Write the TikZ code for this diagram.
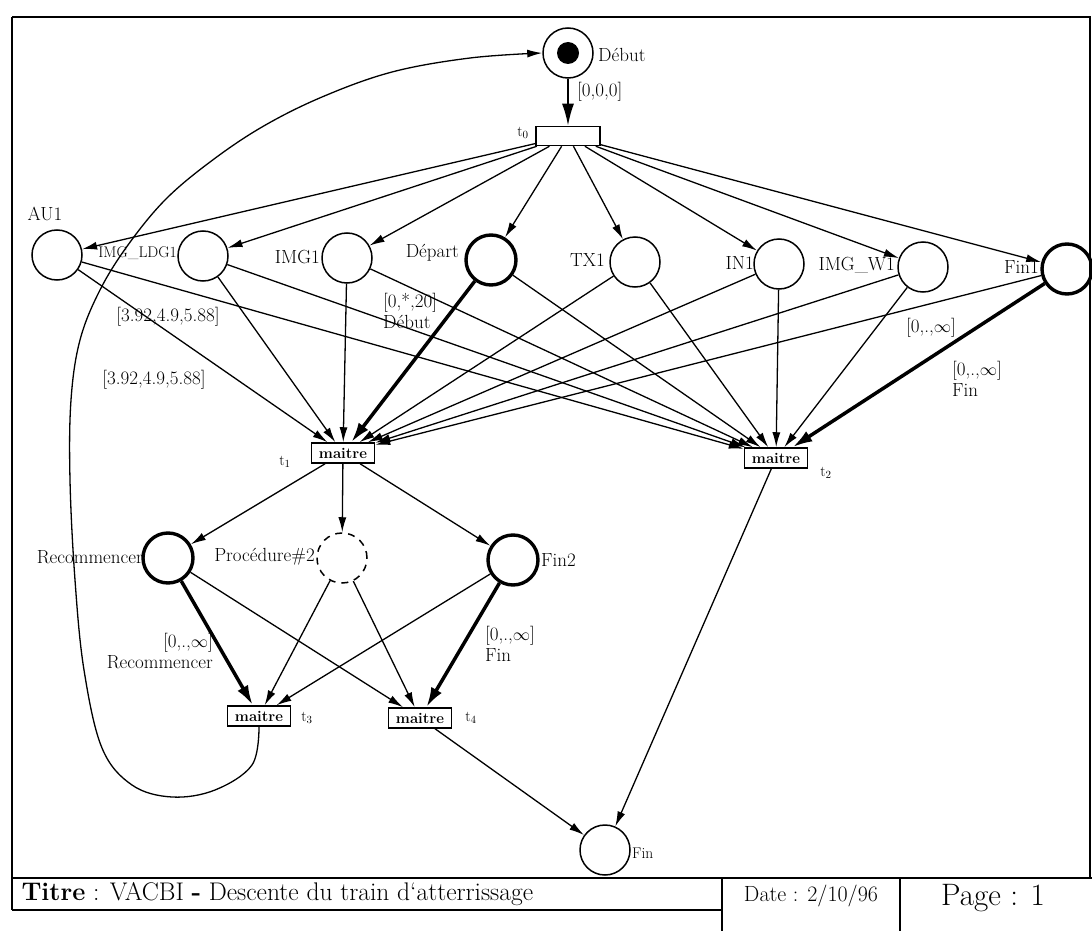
\documentclass[tikz,border=0pt]{standalone}
\usetikzlibrary{arrows.meta}
\begin{document}
\begin{tikzpicture}[x=1pt,y=-1pt,
  place/.style={circle,draw,line width=1.5pt,minimum size=50pt,inner sep=0pt},
  thickplace/.style={place,line width=3.4pt},
  dashplace/.style={place,dash pattern=on 7pt off 6pt},
  trans/.style={rectangle,draw,line width=1.5pt,minimum width=63pt,minimum height=20pt,inner sep=0pt,font=\fontsize{15}{15}\selectfont\bfseries},
  arc/.style={line width=1.3pt,-{Latex[length=15pt,width=8pt]}},
  bigarc/.style={line width=2pt,-{Latex[length=22pt,width=12pt]}},
  thickarc/.style={line width=3.5pt,-{Latex[length=20pt,width=12pt]}},
  lbl/.style={font=\fontsize{19}{21}\selectfont,inner sep=1pt},
  slbl/.style={font=\fontsize{15.5}{17}\selectfont,inner sep=1pt},
  tl/.style={font=\fontsize{15}{15}\selectfont,inner sep=1pt},
  frame/.style={line width=2pt}
]
\useasboundingbox (0,0) rectangle (1092,931);
% frame and title block
\draw[frame] (12,17) -- (1090,17) -- (1090,878);
\draw[frame] (12,17) -- (12,910);
\draw[frame] (12,878) -- (1092,878);
\draw[frame] (12,910) -- (722,910);
\draw[frame] (722,878) -- (722,931);
\draw[frame] (900,878) -- (900,931);
\node[anchor=west,font=\fontsize{25.5}{27}\selectfont] (titre) at (18,894) {\textbf{Titre} : VACBI \textbf{-} Descente du train d`atterrissage};
\node[font=\fontsize{22}{24}\selectfont] (date) at (811,896) {Date : 2/10/96};
\node[font=\fontsize{31}{33}\selectfont] (page) at (993,898) {Page : 1};

% places
\node[place] (Debut) at (568,53) {};
\node[circle,fill,minimum size=22pt,inner sep=0pt] (tok) at (Debut) {};
\node[place] (AU1) at (57,255) {};
\node[place] (LDG) at (203,256) {};
\node[place] (IMG) at (347,258) {};
\node[thickplace] (Dep) at (491,260) {};
\node[place] (TX) at (635,262) {};
\node[place] (IN) at (779,264) {};
\node[place] (W1) at (923,267) {};
\node[thickplace] (Fin1) at (1067,269) {};
\node[thickplace] (Rec) at (168,558) {};
\node[dashplace] (Proc) at (342,558) {};
\node[thickplace] (Fin2) at (513,560) {};
\node[place] (Fin) at (605,850) {};

% transitions
\node[trans,minimum height=19pt,minimum width=64pt] (t0) at (568,136) {};
\node[trans] (t1) at (343,453) {maitre};
\node[trans] (t2) at (776,458) {maitre};
\node[trans] (t3) at (259,716) {maitre};
\node[trans] (t4) at (420,718) {maitre};

% place labels
\node[lbl,anchor=west] (lDebut) at (597,55) {Début};
\node[lbl] (lAU1) at (45,214) {AU1};
\node[slbl,anchor=east] (lLDG) at (178,253) {IMG\_LDG1};
\node[lbl,anchor=east] (lIMG) at (321,257) {IMG1};
\node[lbl,anchor=east] (lDep) at (460,253) {Départ};
\node[lbl,anchor=east] (lTX) at (606,260) {TX1};
\node[lbl,anchor=east] (lIN) at (755,263) {IN1};
\node[lbl,anchor=east] (lW1) at (896,265) {IMG\_W1};
\node[lbl,anchor=east] (lFin1) at (1040,267) {Fin1};
\node[lbl,anchor=east] (lRec) at (144,557) {Recommencer};
\node[lbl,anchor=east] (lProc) at (316,557) {Procédure\#2};
\node[lbl,anchor=west] (lFin2) at (540,560) {Fin2};
\node[slbl,anchor=west] (lFin) at (631,853) {Fin};

% transition labels
\node[tl] (lt0) at (523,133) {t$_0$};
\node[tl] (lt1) at (285,462) {t$_1$};
\node[tl] (lt2) at (826,473) {t$_2$};
\node[tl] (lt3) at (307,718) {t$_3$};
\node[tl] (lt4) at (471,718) {t$_4$};

% arcs from Debut / t0
\draw[bigarc] (Debut) -- (t0);
\node[lbl,anchor=west] (a0) at (576,92) {[0,0,0]};
\foreach \p in {AU1,LDG,IMG,Dep,TX,IN,W1,Fin1} {
  \draw[arc] (t0) -- (\p);
}

% arcs into t1 and t2
\foreach \p in {AU1,LDG,IMG,TX,IN,W1,Fin1} {
  \draw[arc] (\p) -- (t1);
}
\draw[thickarc] (Dep) -- (t1);
\foreach \p in {AU1,LDG,IMG,Dep,TX,IN,W1} {
  \draw[arc] (\p) -- (t2);
}
\draw[thickarc] (Fin1) -- (t2);

\node[lbl] (a1) at (168,317) {[3.92,4.9,5.88]};
\node[lbl] (a2) at (154,380) {[3.92,4.9,5.88]};
\node[lbl,anchor=north west,align=left] (a3) at (382,292) {[0,*,20]\\Début};
\node[lbl] (a4) at (931,328) {[0,.,$\infty$]};
\node[lbl,anchor=north west,align=left] (a5) at (951,360) {[0,.,$\infty$]\\Fin};

% arcs out of t1
\draw[arc] (t1) -- (Rec);
\draw[arc] (t1) -- (Proc);
\draw[arc] (t1) -- (Fin2);

% arcs into t3, t4
\draw[thickarc] (Rec) -- (t3);
\draw[arc] (Rec) -- (t4);
\draw[arc] (Proc) -- (t3);
\draw[arc] (Proc) -- (t4);
\draw[arc] (Fin2) -- (t3);
\draw[thickarc] (Fin2) -- (t4);
\node[lbl,anchor=north east,align=right] (a6) at (214,632) {[0,.,$\infty$]\\Recommencer};
\node[lbl,anchor=north west,align=left] (a7) at (484,625) {[0,.,$\infty$]\\Fin};

% arcs to Fin
\draw[arc] (t4) -- (Fin);
\draw[arc] (t2) -- (Fin);

% loop back t3 -> Debut
\draw[arc] plot[smooth,tension=0.6] coordinates {(t3.south) (252,765) (215,790) (172,797) (132,785) (102,748) (84,670) (75,580) (70,480) (71,400) (80,340) (100,290) (128,245) (165,200) (210,162) (262,127) (322,97) (392,72) (470,58) (Debut.west)};
\end{tikzpicture}
\end{document}
